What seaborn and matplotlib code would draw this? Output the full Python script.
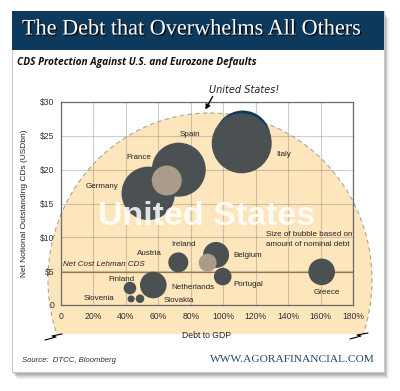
import numpy as np
import pandas as pd
import matplotlib
matplotlib.use("Agg")
import matplotlib.pyplot as plt
import seaborn as sns
from matplotlib.patches import Rectangle, Ellipse, FancyArrowPatch
from matplotlib import patheffects as pe

# ---------------- data ----------------
debt_to_gdp = [112.0, 111.4, 53.8, 72.6, 65.2, 72.3, 95.6, 90.4, 99.7, 160.7, 56.9, 42.5, 43.2, 48.7]
net_cds = [24.6, 23.9, 16.5, 20.0, 18.4, 6.3, 7.4, 6.25, 4.2, 4.9, 2.95, 2.5, 0.9, 0.93]
nominal_debt = [1568, 1800, 1430, 1458, 450, 200, 338, 162, 155, 354, 354, 79, 25, 37]
group = ["us", "ez", "ez", "ez", "alt", "ez", "ez", "alt", "ez", "ez", "ez", "ez", "ez", "ez"]

label_names = ["Germany", "France", "Spain", "Italy", "Austria", "Ireland", "Belgium",
               "Netherlands", "Portugal", "Finland", "Slovenia", "Slovakia", "Greece"]
lehman_cost = 4.9

x_ticks = [0, 20, 40, 60, 80, 100, 120, 140, 160, 180]
x_tick_labels = ["0", "20%", "40%", "60%", "80%", "100%", "120%", "140%", "160%", "180%"]
y_ticks = [0, 5, 10, 15, 20, 25, 30]
y_tick_labels = ["0", "$5", "$10", "$15", "$20", "$25", "$30"]

df = pd.DataFrame({"x": debt_to_gdp, "y": net_cds, "debt": nominal_debt, "group": group})

# ---------------- layout / style ----------------
W, H, DPI = 400, 391, 100
# label centres in figure pixels
label_pos = [(101.7, 186.7), (139.3, 157.3), (190, 135), (283.3, 155), (149, 253.3),
             (184, 244.3), (247.7, 255.3), (192.7, 287.7), (248.7, 284.3), (121.7, 279.3),
             (99.3, 299), (179.3, 300.3), (326.7, 292.7)]

sns.set_theme(style="white")
plt.rcParams["font.family"] = ["Liberation Sans", "DejaVu Sans"]

fig = plt.figure(figsize=(W / DPI, H / DPI), dpi=DPI)
fig.patch.set_facecolor("white")

# background axes in pixel coordinates
bg = fig.add_axes([0, 0, 1, 1], zorder=0)
bg.set_xlim(0, W)
bg.set_ylim(H, 0)
bg.axis("off")

# card shadow
for i in range(7):
    bg.add_patch(Rectangle((12 + 1 + i * 0.6, 11 + 2 + i * 0.8), 372, 361,
                           facecolor="black", alpha=0.05, edgecolor="none"))
bg.add_patch(Rectangle((12, 11), 372, 361, facecolor="white", edgecolor="#c9c9c9", lw=0.8))
# title banner
bg.add_patch(Rectangle((12, 11), 372, 38.5, facecolor="#0d3a5c", edgecolor="none"))

# United States semicircle
clip = Rectangle((0, 0), W, 334, transform=bg.transData, facecolor="none", edgecolor="none")
bg.add_patch(clip)
usfill = Ellipse((210, 280), 324, 334, facecolor="#fde6bc", edgecolor="none")
bg.add_patch(usfill)
usfill.set_clip_path(clip)
usedge = Ellipse((210, 280), 324, 334, facecolor="none", edgecolor="#aaa59c",
                 lw=0.8, linestyle=(0, (4, 3)))
bg.add_patch(usedge)
usedge.set_clip_path(clip)

# break marks
bg.plot([45, 56, 52, 62], [340, 337, 336, 334], color="black", lw=0.8)
bg.plot([350, 361, 357, 368], [339, 336, 335, 333], color="black", lw=0.8)

# ---------------- main chart ----------------
L, R, T, B = 61, 353, 102, 305
ax = fig.add_axes([L / W, 1 - B / H, (R - L) / W, (B - T) / H], zorder=1)
ax.set_facecolor("none")

dmax = max(nominal_debt)
smax = dmax * (2 * 0.72) ** 2 / 2.0
sns.scatterplot(data=df, x="x", y="y", hue="group",
                palette={"us": "#0d3a5c", "ez": "#4b5052", "alt": "#a99c8a"},
                size="debt", sizes=(0, smax), size_norm=(0, dmax),
                linewidth=0, alpha=1, legend=False, ax=ax, zorder=3)

ax.axhline(lehman_cost, color="#9a7754", lw=0.9, zorder=2)

ax.set_xlim(0, 180)
ax.set_ylim(0, 30)
ax.set_xticks(x_ticks)
ax.set_xticklabels(x_tick_labels)
ax.set_yticks(y_ticks)
ax.set_yticklabels(y_tick_labels)
ax.tick_params(axis="both", length=0, labelsize=6.2, colors="#333333", pad=5)
ax.grid(True, color="#777777", alpha=0.35, lw=0.8)
ax.set_axisbelow(True)
for s in ax.spines.values():
    s.set_color("#6a6a6a")
    s.set_linewidth(0.9)
ax.set_xlabel("Debt to GDP", fontsize=6.2, color="#222222", labelpad=7)
ax.set_ylabel("Net Notional Outstanding CDs (USDbn)", fontsize=6, color="#222222", labelpad=8)

# ---------------- overlay texts ----------------
ov = fig.add_axes([0, 0, 1, 1], zorder=5)
ov.set_xlim(0, W)
ov.set_ylim(H, 0)
ov.axis("off")
ov.patch.set_alpha(0)

ov.text(207, 225, "United States", fontsize=24.5, fontweight="bold", color="white",
        alpha=0.85, ha="center", va="baseline", family=["Liberation Sans", "DejaVu Sans"])

for name, (px, py) in zip(label_names, label_pos):
    ov.text(px, py, name, fontsize=5.8, color="#222222", ha="center", va="center")

ov.text(63, 264.5, "Net Cost Lehman CDS", fontsize=5.8, style="italic", color="#222222",
        ha="left", va="center")
ov.text(266, 235, "Size of bubble based on", fontsize=5.8, color="#222222", ha="left", va="center")
ov.text(266, 244.5, "amount of nominal debt", fontsize=5.8, color="#222222", ha="left", va="center")

ov.text(244, 90, "United States!", fontsize=7, style="italic", color="#222222",
        ha="center", va="center", family=["DejaVu Sans"])
ov.add_patch(FancyArrowPatch((214, 94), (204, 112), arrowstyle="-|>", mutation_scale=7,
                             color="black", lw=1.0))

ov.text(22, 30, "The Debt that Overwhelms All Others", fontsize=16, color="white",
        ha="left", va="center", family=["Liberation Serif", "DejaVu Serif"],
        path_effects=[pe.withSimplePatchShadow(offset=(1, -1), shadow_rgbFace="black", alpha=0.8)])
ov.text(17, 63, "CDS Protection Against U.S. and Eurozone Defaults", fontsize=7.3,
        fontweight="bold", style="italic", color="#111111", ha="left", va="center",
        family=["Open Sans", "DejaVu Sans"])

ov.text(22, 360, "Source:  DTCC, Bloomberg", fontsize=5.6, style="italic", color="#333333",
        ha="left", va="center")
ov.text(375, 359, "WWW.AGORAFINANCIAL.COM", fontsize=8.2, color="#1f4a6e", ha="right",
        va="center", family=["Liberation Serif", "DejaVu Serif"])

fig.savefig("out.png", dpi=DPI)
